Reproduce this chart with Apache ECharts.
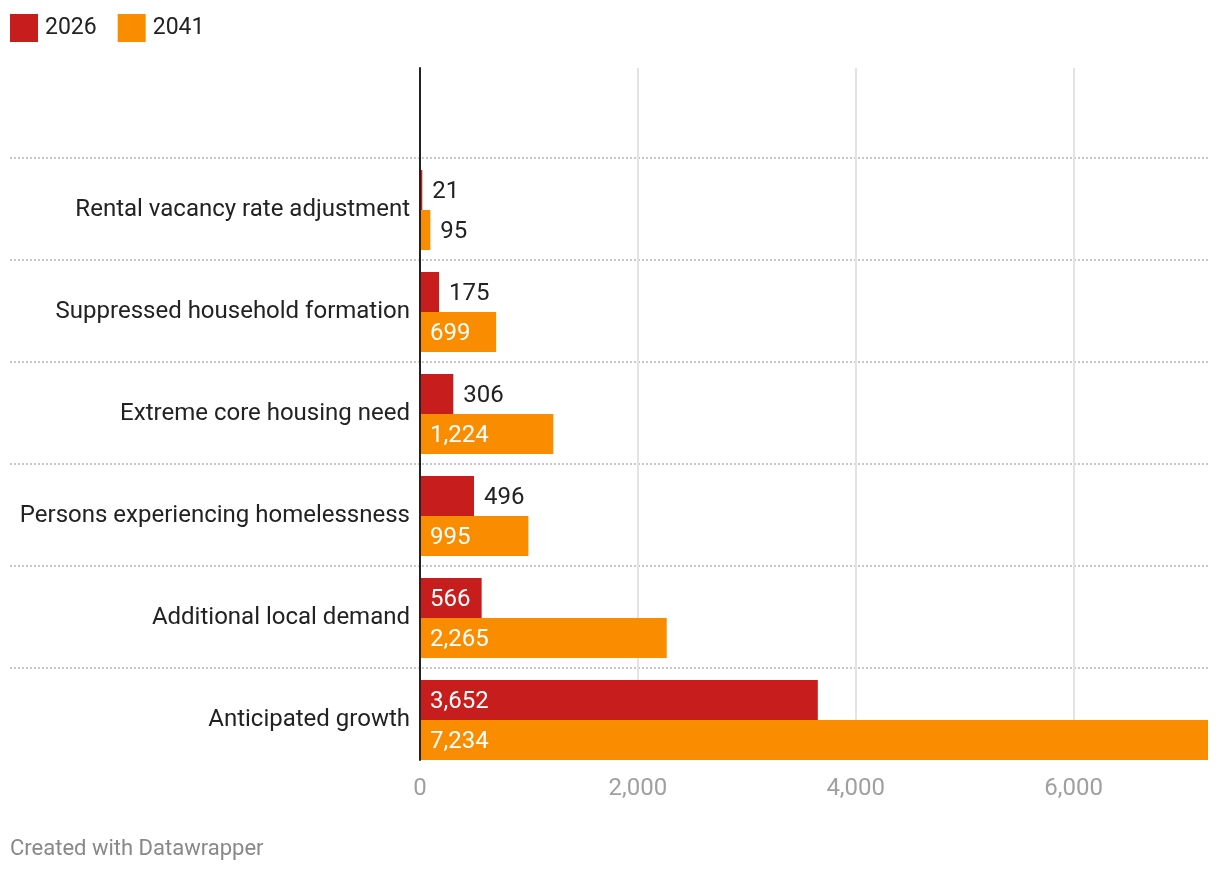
<!DOCTYPE html>
<html><head><meta charset="utf-8">
<script src="https://cdn.jsdelivr.net/npm/echarts@6/dist/echarts.min.js"></script>
<style>html,body{margin:0;padding:0;background:#fff}#c{width:1220px;height:874px}</style>
</head><body><div id="c"></div>
<script>
const categories = ['', 'Rental vacancy rate adjustment', 'Suppressed household formation', 'Extreme core housing need', 'Persons experiencing homelessness', 'Additional local demand', 'Anticipated growth'];
const values2026 = [null, 21, 175, 306, 496, 566, 3652];
const values2041 = [null, 95, 699, 1224, 995, 2265, 7234];
const seriesNames = ['2026', '2041'];
const xTicks = [0, 2000, 4000, 6000];
const xMax = 7234;

const FONT = 'Roboto';
const fmt = v => v.toLocaleString('en-US');
function items(arr) {
  return arr.map(v => {
    if (v == null) return null;
    const inside = v >= 550;
    return { value: v, label: { position: inside ? 'insideLeft' : 'right', color: inside ? '#fff' : '#222' } };
  });
}
const chart = echarts.init(document.getElementById('c'), null, { renderer: 'canvas' });
chart.setOption({
  animation: false,
  textStyle: { fontFamily: FONT },
  title: { text: 'Created with Datawrapper', left: 10, top: 838, padding: 0, textStyle: { fontSize: 22, fontWeight: 'normal', color: '#888', fontFamily: FONT } },
  legend: { left: 10, top: 14, padding: 0, itemWidth: 28, itemHeight: 28, itemGap: 21, icon: 'rect', textStyle: { fontSize: 23, color: '#222', fontFamily: FONT, padding: [0, 0, 0, 2] }, data: seriesNames },
  grid: [
    { left: 420, right: 12, top: 57, bottom: 103 },
    { left: 420, right: 12, top: 68, bottom: 114 },
    { left: 10, right: 12, top: 56, bottom: 104 }
  ],
  xAxis: [
    { gridIndex: 0, type: 'value', min: 0, max: xMax, show: false },
    { gridIndex: 1, type: 'value', min: 0, max: xMax, interval: xTicks[1] - xTicks[0],
      axisLine: { show: false }, axisTick: { show: false },
      axisLabel: { showMaxLabel: false, fontSize: 24, color: '#a0a0a0', margin: 17, fontFamily: FONT, formatter: v => fmt(v) },
      splitLine: { show: true, showMaxLine: false, lineStyle: { color: '#e3e3e3', width: 2 } } },
    { gridIndex: 2, type: 'value', min: 0, max: 1, show: false }
  ],
  yAxis: [
    { gridIndex: 0, type: 'category', data: categories, inverse: true,
      axisLine: { show: false }, axisTick: { show: false }, splitLine: { show: false },
      axisLabel: { fontSize: 24, color: '#222', margin: 10, fontFamily: FONT, padding: [4, 0, 0, 0] } },
    { gridIndex: 1, type: 'value', min: 0, max: 1, axisLabel: { show: false }, axisTick: { show: false }, splitLine: { show: false },
      axisLine: { show: true, lineStyle: { color: '#222', width: 2 } }, z: 10 },
    { gridIndex: 2, type: 'value', min: 0, max: categories.length, interval: 1, inverse: true,
      axisLine: { show: false }, axisTick: { show: false }, axisLabel: { show: false },
      splitLine: { show: true, showMinLine: false, showMaxLine: false, lineStyle: { color: '#c8c8c8', width: 2, type: [2, 2] } } }
  ],
  series: [
    { name: seriesNames[0], type: 'bar', xAxisIndex: 0, yAxisIndex: 0, data: items(values2026), barWidth: 40, barGap: '0%',
      itemStyle: { color: '#c71e1d' }, label: { show: true, distance: 10, offset: [0, 2], fontSize: 24, fontFamily: FONT, formatter: p => fmt(p.value) } },
    { name: seriesNames[1], type: 'bar', xAxisIndex: 0, yAxisIndex: 0, data: items(values2041), barWidth: 40, barGap: '0%',
      itemStyle: { color: '#fa8c00' }, label: { show: true, distance: 10, offset: [0, 2], fontSize: 24, fontFamily: FONT, formatter: p => fmt(p.value) } }
  ]
});
</script></body></html>
